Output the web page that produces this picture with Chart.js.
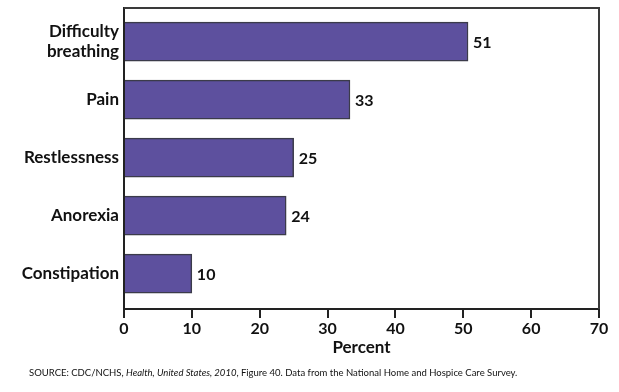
<!DOCTYPE html>
<html lang="en">
<head>
  <meta charset="UTF-8">
  <title>Symptoms in hospice care</title>
  <script src="https://cdn.jsdelivr.net/npm/chart.js"></script>
  <style>
    html, body { margin: 0; padding: 0; background: #fff; }
    #wrap { width: 619px; height: 392px; }
  </style>
</head>
<body>
  <div id="wrap"><canvas id="symptoms-chart" width="619" height="392"></canvas></div>

  <script>
    // data
    const categories = [['Difficulty', 'breathing'], 'Pain', 'Restlessness', 'Anorexia', 'Constipation'];
    const percents = [50.7, 33.3, 25.0, 23.9, 10.0];
    const xTicks = [0, 10, 20, 30, 40, 50, 60, 70];
    const sourceParts = [
      ['SOURCE: CDC/NCHS, ', false],
      ['Health, United States, 2010', true],
      [', Figure 40. Data from the National Home and Hospice Care Survey.', false]
    ];

    const FONT = "Lato, sans-serif";

    // frame on top and right of plot area
    const framePlugin = {
      id: 'frame',
      beforeDatasetsDraw(chart) {
        const { ctx, chartArea: a } = chart;
        ctx.save();
        ctx.strokeStyle = '#3a3a3a';
        ctx.lineWidth = 2;
        ctx.beginPath();
        ctx.moveTo(a.left, a.top);
        ctx.lineTo(a.right, a.top);
        ctx.lineTo(a.right, a.bottom);
        ctx.stroke();
        ctx.restore();
      }
    };

    // value labels at bar ends
    const valueLabels = {
      id: 'valueLabels',
      afterDatasetsDraw(chart) {
        const { ctx } = chart;
        const meta = chart.getDatasetMeta(0);
        ctx.save();
        ctx.font = `700 16px ${FONT}`;
        ctx.fillStyle = '#111';
        ctx.textBaseline = 'middle';
        meta.data.forEach((bar, i) => {
          ctx.fillText(Math.round(percents[i]), bar.x + 5, bar.y + 1);
        });
        ctx.restore();
      }
    };

    // source line with italic title
    const sourceNote = {
      id: 'sourceNote',
      afterDraw(chart) {
        const { ctx } = chart;
        ctx.save();
        ctx.fillStyle = '#111';
        ctx.textBaseline = 'middle';
        let x = 29;
        sourceParts.forEach(([txt, italic]) => {
          ctx.font = `${italic ? 'italic ' : ''}9.5px ${FONT}`;
          ctx.fillText(txt, x, 373);
          x += ctx.measureText(txt).width;
        });
        ctx.restore();
      }
    };

    const ctx = document.getElementById('symptoms-chart').getContext('2d');
    new Chart(ctx, {
      type: 'bar',
      data: {
        datasets: [{
          data: percents.map((v, i) => ({ x: v, y: i })),
          backgroundColor: '#5d509e',
          borderColor: '#3b3b4a',
          borderWidth: 1.5,
          barThickness: 39
        }]
      },
      options: {
        indexAxis: 'y',
        responsive: false,
        animation: false,
        layout: { padding: { top: 8, right: 20, bottom: 29, left: 0 } },
        plugins: {
          legend: { display: false },
          tooltip: { enabled: false }
        },
        scales: {
          x: {
            type: 'linear',
            min: 0,
            max: 70,
            afterBuildTicks: (scale) => { scale.ticks = xTicks.map(v => ({ value: v })); },
            afterFit: (scale) => { scale.height = 54; },
            grid: { drawOnChartArea: false, tickLength: 9, color: '#222', lineWidth: 2 },
            border: { color: '#222', width: 2 },
            ticks: { color: '#111', padding: 1, font: { family: FONT, size: 16, weight: '700' } },
            title: {
              display: true,
              text: 'Percent',
              color: '#111',
              padding: { top: 0, bottom: 5 },
              font: { family: FONT, size: 17, weight: '700' }
            }
          },
          y: {
            type: 'linear',
            reverse: true,
            offset: false,
            min: -0.58,
            max: 4.61,
            afterBuildTicks: (scale) => { scale.ticks = categories.map((_, i) => ({ value: i })); },
            afterFit: (scale) => {
              scale.width = 124;
              scale.paddingTop = 0;
              scale.paddingBottom = 0;
            },
            grid: { display: false, drawTicks: false },
            border: { color: '#222', width: 2 },
            ticks: {
              color: '#111',
              padding: 5,
              font: { family: FONT, size: 17, weight: '700' },
              callback: (v) => categories[v]
            }
          }
        }
      },
      plugins: [framePlugin, valueLabels, sourceNote]
    });
  </script>
</body>
</html>
